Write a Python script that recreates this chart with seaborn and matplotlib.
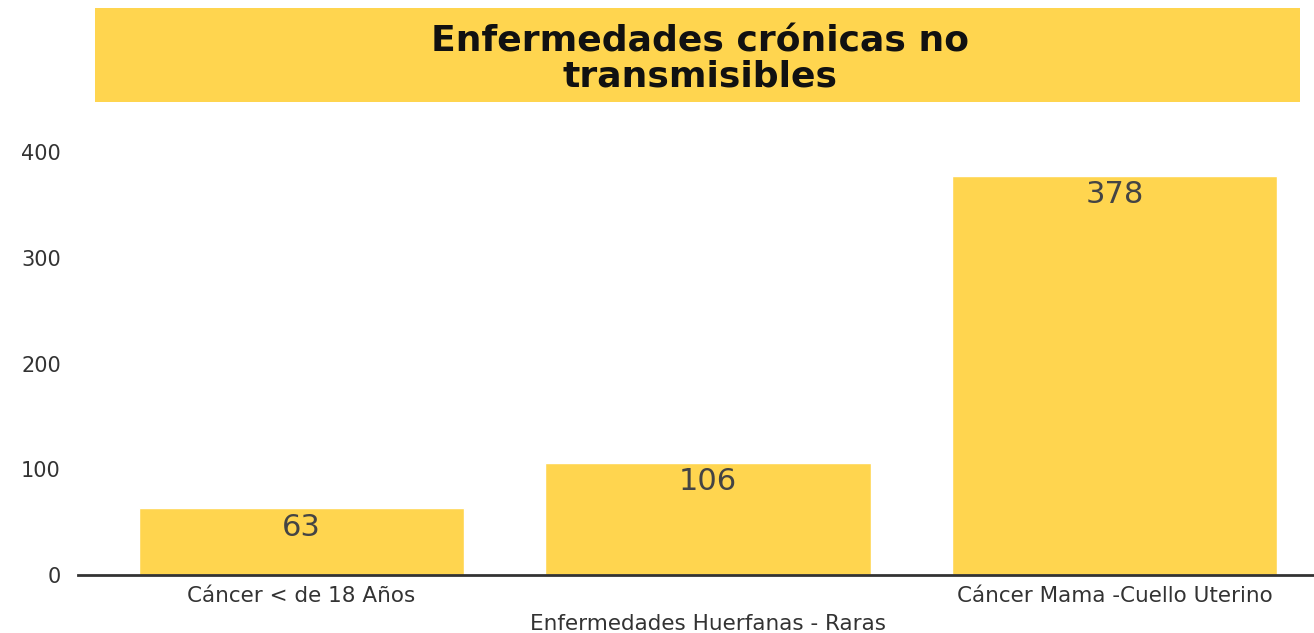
import matplotlib
matplotlib.use("Agg")
import matplotlib.pyplot as plt
import seaborn as sns
import pandas as pd
from matplotlib.patches import Rectangle

# datos
categorias = ["Cáncer < de 18 Años", "Enfermedades Huerfanas - Raras", "Cáncer Mama -Cuello Uterino"]
valores = [63, 106, 378]
ticks_y = [0, 100, 200, 300, 400]
titulo = "Enfermedades crónicas no\ntransmisibles"

AMARILLO = "#FFD54F"

sns.set_theme(style="white")
plt.rcParams['font.family'] = ['DejaVu Sans']

df = pd.DataFrame({"categoria": categorias, "valor": valores})

fig = plt.figure(figsize=(13.14, 6.33), dpi=100)
ax = fig.add_axes([0.059, 0.0916, 0.941, 0.687])

sns.barplot(data=df, x="categoria", y="valor", color=AMARILLO, saturation=1,
            width=0.8, ax=ax)

ax.bar_label(ax.containers[0], labels=[str(v) for v in valores], padding=-24,
             fontsize=22, color="#444444", family="DejaVu Sans")

ax.set_xlim(-0.55, 2.49)
ax.set_ylim(0, 411.5)
ax.set_yticks(ticks_y)
ax.set_xlabel("")
ax.set_ylabel("")
ax.tick_params(axis="y", length=0, pad=12, labelsize=15, labelcolor="#333333")
ax.tick_params(axis="x", length=0, pad=8, labelsize=15.5, labelcolor="#333333")
for lab in ax.get_xticklabels() + ax.get_yticklabels():
    lab.set_family("DejaVu Sans")

# etiqueta del medio escalonada hacia abajo
ax.xaxis.get_major_ticks()[1].set_pad(28)

sns.despine(ax=ax, left=True, right=True, top=True)
ax.spines["bottom"].set_color("#333333")
ax.spines["bottom"].set_linewidth(2)

# caja del titulo
fig.patches.append(Rectangle((0.0723, 0.839), 0.9167, 0.148, transform=fig.transFigure,
                             facecolor=AMARILLO, edgecolor="none", zorder=0))
fig.text(0.533, 0.907, titulo, ha="center", va="center", fontsize=26,
         fontweight="bold", color="#111111", linespacing=1.05)

fig.savefig("out.png", dpi=100)
